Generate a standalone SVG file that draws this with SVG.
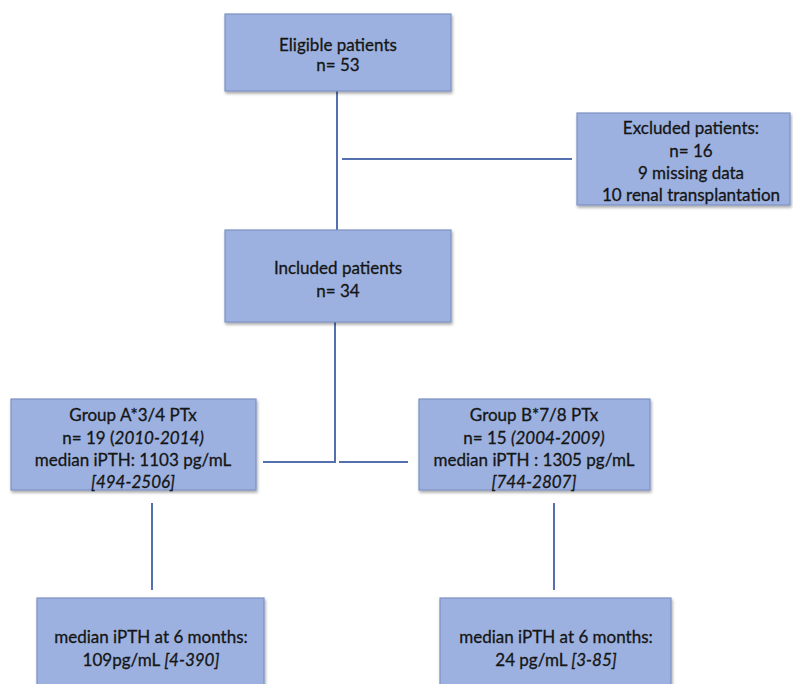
<svg xmlns="http://www.w3.org/2000/svg" width="793" height="684" viewBox="0 0 793 684">
<defs>
<filter id="sh" x="-10%" y="-10%" width="120%" height="130%">
<feDropShadow dx="1" dy="2" stdDeviation="1.5" flood-color="#000" flood-opacity="0.35"/>
</filter>
<style>
.box{fill:#9cb1df;stroke:#7d92c4;stroke-width:1.2;filter:url(#sh)}
.t{font-family:Lato,"Open Sans","Liberation Sans",sans-serif;font-size:17px;fill:#151515;stroke:#151515;stroke-width:0.3;text-anchor:middle}
.c{stroke:#5470ae;stroke-width:2;fill:none}
</style>
</defs>
<rect width="793" height="684" fill="#fff"/>
<g id="connectors">
<line class="c" x1="337" y1="91" x2="337" y2="230"/>
<line class="c" x1="342" y1="159" x2="572" y2="159"/>
<polyline class="c" points="335,322 335,462 263,462"/>
<line class="c" x1="339" y1="462" x2="408" y2="462"/>
<line class="c" x1="152" y1="503" x2="152" y2="590"/>
<line class="c" x1="554" y1="503" x2="554" y2="590"/>
</g>
<g id="eligible">
<rect class="box" x="225" y="14" width="226" height="77"/>
<text class="t" x="338" y="51">Eligible patients</text>
<text class="t" x="338" y="71">n= 53</text>
</g>
<g id="excluded">
<rect class="box" x="577" y="113" width="213" height="92"/>
<text class="t" x="691" y="134">Excluded patients:</text>
<text class="t" x="691" y="157">n= 16</text>
<text class="t" x="691" y="179">9 missing data</text>
<text class="t" x="691" y="201">10 renal transplantation</text>
</g>
<g id="included">
<rect class="box" x="225" y="230" width="226" height="92"/>
<text class="t" x="338" y="274">Included patients</text>
<text class="t" x="338" y="297">n= 34</text>
</g>
<g id="groupA">
<rect class="box" x="11" y="399" width="245" height="91"/>
<text class="t" x="133" y="421">Group A*3/4 PTx</text>
<text class="t" x="133" y="444">n= 19 (<tspan font-style="italic">2010-2014)</tspan></text>
<text class="t" x="133" y="466">median iPTH: 1103 pg/mL</text>
<text class="t" x="133" y="488" font-style="italic">[494-2506]</text>
</g>
<g id="groupB">
<rect class="box" x="419" y="399" width="231" height="91"/>
<text class="t" x="534" y="421">Group B*7/8 PTx</text>
<text class="t" x="534" y="444">n= 15 <tspan font-style="italic">(2004-2009)</tspan></text>
<text class="t" x="534" y="466">median iPTH : 1305 pg/mL</text>
<text class="t" x="534" y="488" font-style="italic">[744-2807]</text>
</g>
<g id="resultA">
<rect class="box" x="37" y="598" width="227" height="100"/>
<text class="t" x="151" y="643">median iPTH at 6 months:</text>
<text class="t" x="151" y="666">109pg/mL <tspan font-style="italic">[4-390]</tspan></text>
</g>
<g id="resultB">
<rect class="box" x="440" y="598" width="231" height="100"/>
<text class="t" x="556" y="643">median iPTH at 6 months:</text>
<text class="t" x="556" y="666">24 pg/mL <tspan font-style="italic">[3-85]</tspan></text>
</g>
</svg>
